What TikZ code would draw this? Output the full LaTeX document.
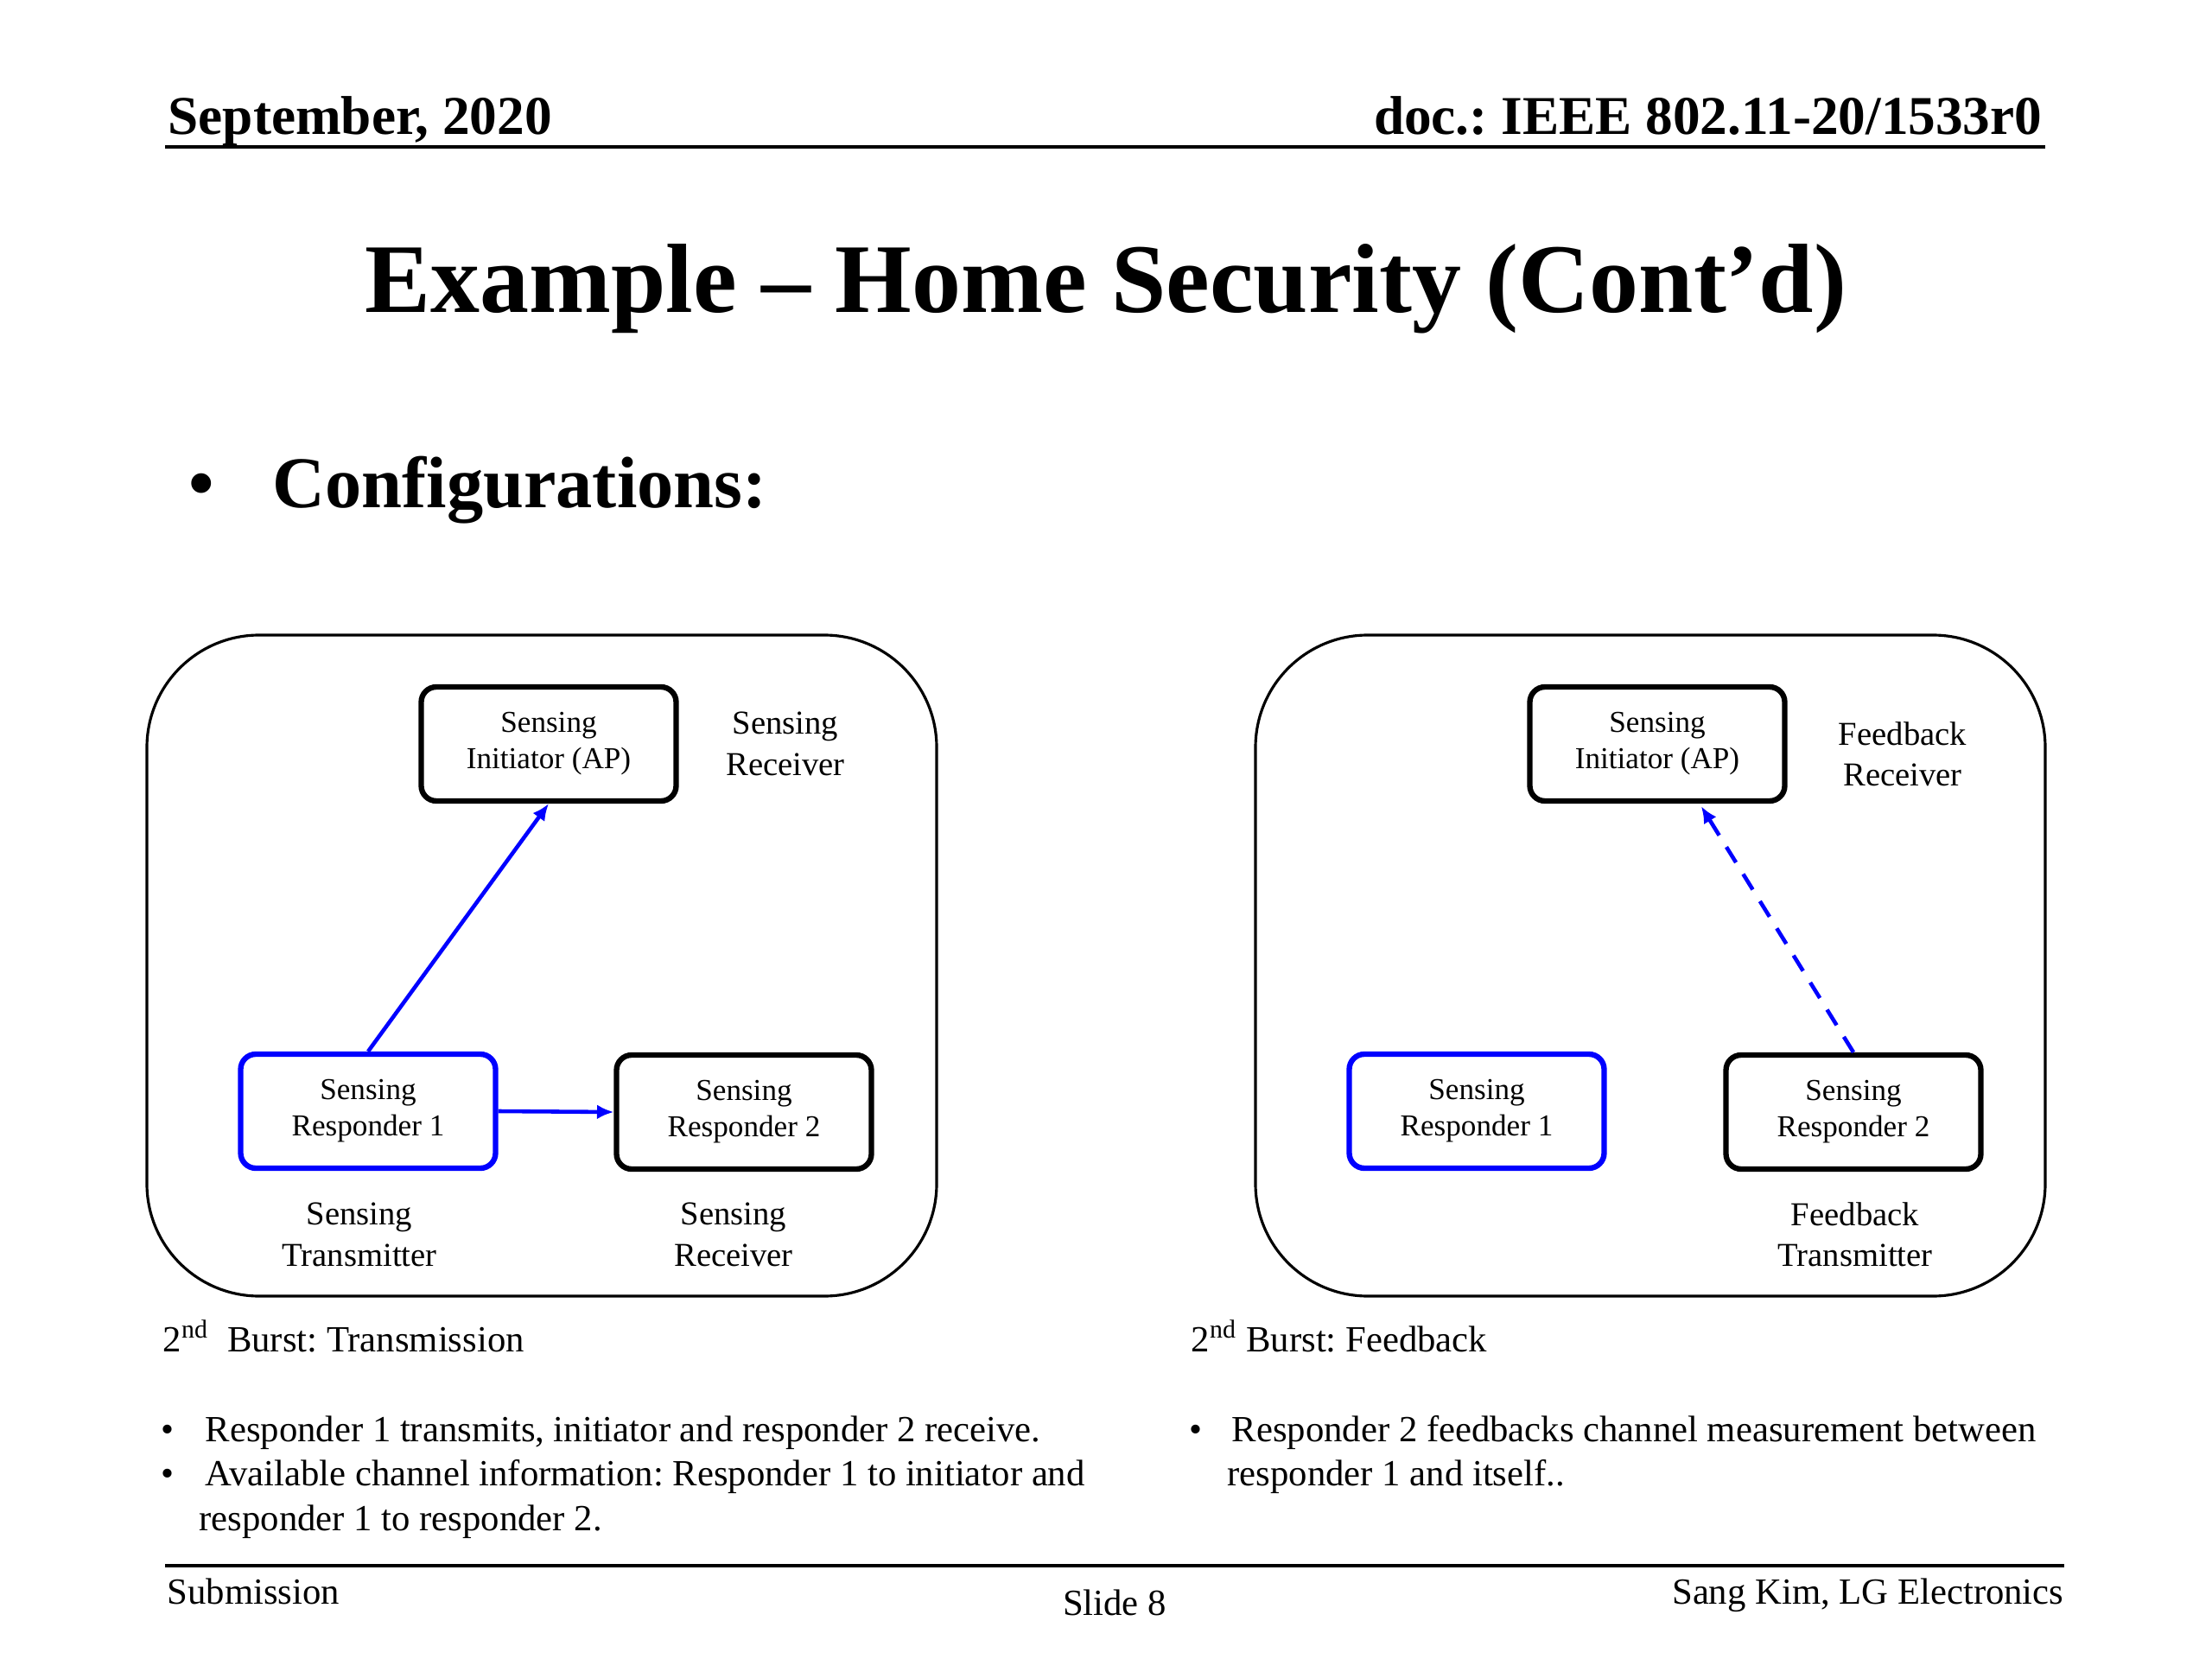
\documentclass[tikz,border=0pt]{standalone}
\usepackage{fontspec}
\setmainfont{Liberation Serif}
\usetikzlibrary{arrows.meta}
\frenchspacing
\begin{document}
\begin{tikzpicture}[
  station/.style={draw,line width=1.8pt,rounded corners=5pt,minimum width=2.95cm,minimum height=1.32cm,align=center,inner sep=0pt,font=\fontsize{10}{12}\selectfont},
  role/.style={align=center,inner sep=0pt,font=\fontsize{11}{13.5}\selectfont},
  body/.style={anchor=base west,inner sep=0pt,font=\fontsize{12.15}{14.5}\selectfont},
  dot/.style={anchor=base,inner sep=0pt,font=\fontsize{12.15}{14.5}\selectfont},
  link/.style={-{Latex[length=5.5pt,width=4.8pt]},line width=1.3pt,blue},
  panel/.style={line width=0.9pt,rounded corners=1.3cm}
]

\useasboundingbox (0,0) rectangle (25.6,-19.2);

\node[anchor=base west,inner sep=0pt,font=\fontsize{18}{21}\selectfont\bfseries] (date) at (1.94,-1.56) {September, 2020};
\node[anchor=base east,inner sep=0pt,font=\fontsize{18}{21}\selectfont\bfseries] (docno) at (23.64,-1.56) {doc.: IEEE 802.11-20/1533r0};
\draw[line width=0.9pt] (1.91,-1.70) -- (23.67,-1.70);

\node[anchor=base,inner sep=0pt,font=\fontsize{32.4}{38}\selectfont\bfseries] (title) at (12.80,-3.62) {Example \textendash{} Home Security (Cont’d)};
\node[anchor=base,inner sep=0pt,font=\fontsize{24}{28}\selectfont\bfseries] (cdot) at (2.33,-5.88) {•};
\node[anchor=base west,inner sep=0pt,font=\fontsize{24}{28}\selectfont\bfseries] (config) at (3.15,-5.88) {Configurations:};

\draw[panel] (1.70,-7.35) rectangle (10.84,-15.00);
\draw[panel] (14.53,-7.35) rectangle (23.67,-15.00);

\node[station] (initL) at (6.35,-8.61) {Sensing\\Initiator (AP)};
\node[station,draw=blue] (respL) at (4.26,-12.86) {Sensing\\Responder 1};
\node[station] (resptwoL) at (8.61,-12.87) {Sensing\\Responder 2};
\node[role] (rxL) at (9.09,-8.61) {Sensing\\Receiver};
\node[role] (txL) at (4.16,-14.29) {Sensing\\Transmitter};
\node[role] (rxtwoL) at (8.49,-14.29) {Sensing\\Receiver};

\draw[link] (respL.north) -- (initL.south);
\draw[link] (respL.east) -- (resptwoL.west);

\node[station] (initR) at (19.18,-8.61) {Sensing\\Initiator (AP)};
\node[station,draw=blue] (respR) at (17.09,-12.86) {Sensing\\Responder 1};
\node[station] (resptwoR) at (21.45,-12.87) {Sensing\\Responder 2};
\node[role] (fbrx) at (22.02,-8.73) {Feedback\\Receiver};
\node[role] (fbtx) at (21.47,-14.29) {Feedback\\Transmitter};

\draw[link,dash pattern=on 6pt off 4.5pt,shorten >=1pt] (resptwoR.north) -- ([xshift=4.9mm]initR.south);

\node[body] (burstL) at (1.88,-15.64) {2\textsuperscript{nd}\ \ Burst: Transmission};
\node[body] (burstR) at (13.78,-15.64) {2\textsuperscript{nd} Burst: Feedback};

\node[dot] (dotA) at (1.94,-16.68) {•};
\node[dot] (dotB) at (1.94,-17.19) {•};
\node[body] (lineA) at (2.37,-16.68) {Responder 1 transmits, initiator and responder 2 receive.};
\node[body] (lineB) at (2.37,-17.19) {Available channel information: Responder 1 to initiator and};
\node[body] (lineC) at (2.30,-17.71) {responder 1 to responder 2.};

\node[dot] (dotC) at (13.84,-16.68) {•};
\node[body] (lineD) at (14.25,-16.68) {Responder 2 feedbacks channel measurement between};
\node[body] (lineE) at (14.20,-17.19) {responder 1 and itself..};

\draw[line width=0.9pt] (1.91,-18.12) -- (23.89,-18.12);
\node[body] (sub) at (1.93,-18.56) {Submission};
\node[dot] (slide) at (12.90,-18.69) {Slide 8};
\node[anchor=base east,inner sep=0pt,font=\fontsize{12.15}{14.5}\selectfont] (author) at (23.89,-18.56) {Sang Kim, LG Electronics};

\end{tikzpicture}
\end{document}
